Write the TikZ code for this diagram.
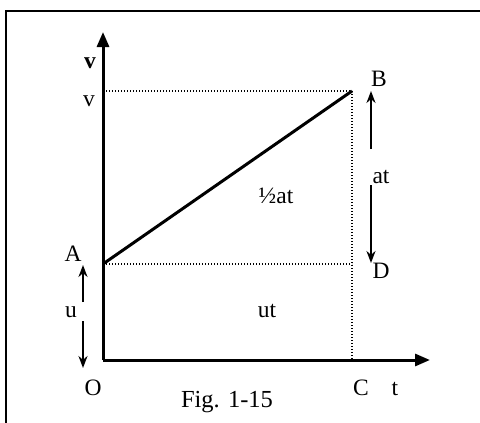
\documentclass[tikz,border=0pt]{standalone}
\usepackage{fontspec}
\setmainfont{Liberation Serif}
\usetikzlibrary{arrows.meta}
\begin{document}
\begin{tikzpicture}[x=1pt,y=-1pt,
  lbl/.style={inner sep=0pt,anchor=base,font=\fontsize{23.5}{27}\selectfont},
  axis/.style={line width=3pt,-{Triangle[length=15pt,width=12pt]}},
  dots/.style={line width=1.4pt,dash pattern=on 1.2pt off 1.8pt},
  varrow/.style={line width=2.2pt,-{Stealth[length=12pt,width=9pt]}},
  thick line/.style={line width=3pt}]
\useasboundingbox (0,0) rectangle (480,423);
\draw[line width=1.4pt] (6,423) -- (6,11) -- (480,11);
\coordinate (O) at (103,360);
\coordinate (Vtop) at (103,32);
\coordinate (Tend) at (430,360);
\coordinate (A) at (103,264);
\coordinate (B) at (352,91);
\coordinate (C) at (352,360);
\coordinate (D) at (352,264);
\coordinate (Vv) at (103,91);
% dotted guides
\draw[dots] (Vv) -- (B);
\draw[dots] (B) -- (C);
\draw[dots] (A) -- (D);
% axes
\draw[axis] (O) -- (Vtop);
\draw[axis] (O) -- (Tend);
% line AB
\draw[thick line] (A) -- (B);
% labels
\node[lbl,font=\fontsize{23.5}{27}\selectfont\bfseries] (vb) at (90,68) {v};
\node[lbl] (vl) at (89,106) {v};
\node[lbl] (Al) at (73,261) {A};
\node[lbl] (ul) at (71,317) {u};
\node[lbl] (Ol) at (93,395) {O};
\node[lbl] (Bl) at (379,86) {B};
\node[lbl] (atl) at (381,183) {at};
\node[lbl] (Dl) at (381,278) {D};
\node[lbl] (Cl) at (361,395) {C};
\node[lbl] (tl) at (395,395) {t};
\node[lbl] (half) at (276,203) {½at};
\node[lbl] (utl) at (267,317) {ut};
\node[lbl,font=\fontsize{24.5}{28}\selectfont] (fig) at (227,407) {Fig. 1-15};
% double arrows
\coordinate (uUp) at (83,265);
\coordinate (uDn) at (83,368);
\draw[varrow] (83,302) -- (uUp);
\draw[varrow] (83,321) -- (uDn);
\coordinate (atUp) at (371,91);
\coordinate (atDn) at (371,263);
\draw[varrow] (371,149) -- (atUp);
\draw[varrow] (371,185) -- (atDn);
\end{tikzpicture}
\end{document}
